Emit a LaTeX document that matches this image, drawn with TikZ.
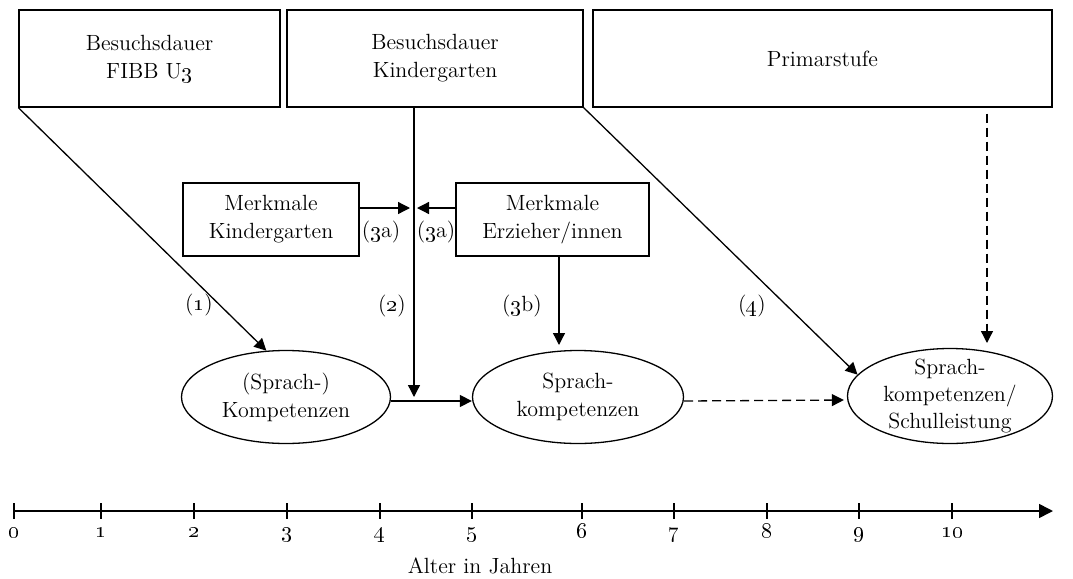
\documentclass[tikz,border=0pt]{standalone}
\usepackage{tikz}
\usetikzlibrary{arrows.meta, positioning, shapes.geometric, calc}
\newcommand{\osn}[1]{\oldstylenums{#1}}

\begin{document}
\begin{tikzpicture}[x=0.5pt, y=-0.5pt, font=\fontsize{11}{14}\selectfont,
  box/.style={draw, line width=0.65pt, align=center, minimum height=48.5pt, inner sep=0pt},
  subbox/.style={draw, line width=0.65pt, align=center, minimum height=36.5pt, inner sep=0pt},
  outcome/.style={draw, ellipse, line width=0.65pt, align=center, inner sep=0pt, minimum height=46.5pt},
  arr/.style={line width=0.65pt, -{Triangle[length=6pt, width=6pt]}},
  darr/.style={arr, dash pattern=on 4.5pt off 2.5pt}]

  % Define constants
  \def\axisy{511}
  \def\ticklen{8}

  % Fix the page size
  \useasboundingbox (0,0) rectangle (1073,579);

  % Top row: phases
  \node[box, minimum width=130.5pt] (fibb) at (149.5,58.5) {Besuchsdauer\\FIBB U\osn{3}};
  \node[box, minimum width=148pt] (kiga) at (435,58.5) {Besuchsdauer\\Kindergarten};
  \node[box, minimum width=229.5pt] (prim) at (822.5,58.5) {Primarstufe};

  % Moderators
  \node[subbox, minimum width=88pt] (mkiga) at (271,219.5) {Merkmale\\Kindergarten};
  \node[subbox, minimum width=96.5pt] (merz) at (552.5,219.5) {Merkmale\\Erzieher/innen};

  % Outcomes
  \node[outcome, minimum width=104.5pt] (sk1) at (286,397) {(Sprach-)\\Kompetenzen};
  \node[outcome, minimum width=105.5pt] (sk2) at (578,397) {Sprach-\\kompetenzen};
  \node[outcome, minimum width=102.5pt, minimum height=47.5pt, inner ysep=-2.5pt,
        font=\fontsize{11}{13.3}\selectfont] (sk3) at (950,396) {Sprach-\\kompetenzen/\\Schulleistung};

  % Key coordinates for the connectors
  \coordinate (join) at (414,397);    % tip of path (2)
  \coordinate (jmod) at (414,208);    % where (3a) meets (2)
  \coordinate (t3b) at (559,345);     % tip of path (3b)
  \coordinate (pend) at (987,343);    % tip of dashed path from Primarstufe

  % Path (1)
  \draw[arr] (fibb.south west) -- (sk1.113);
  \node (l1) at (199,305) {(\osn{1})};

  % Path (2)
  \draw[arr] (kiga.south -| join) -- (join);
  \draw[arr] ([yshift=-2pt]sk1.east) -- ([yshift=-2pt]sk2.west);
  \node (l2) at (392,306) {(\osn{2})};

  % Paths (3a) and (3b)
  \draw[arr, shorten >=2pt] (mkiga.east |- jmod) -- (jmod);
  \draw[arr, shorten >=1.5pt] (merz.west |- jmod) -- (jmod);
  \node (l3a) at (381,232) {(\osn{3}a)};
  \node (l3a') at (436,232) {(\osn{3}a)};
  \draw[arr] (merz.south -| t3b) -- (t3b);
  \node (l3b) at (522,306) {(\osn{3}b)};

  % Path (4)
  \draw[arr] (kiga.south east) -- (sk3.167);
  \node (l4) at (752,306) {(\osn{4})};

  % Dashed paths
  \draw[darr, shorten <=3pt] (prim.south -| pend) -- (pend);
  \draw[darr, shorten >=1.5pt] ([yshift=-2pt]sk2.east) -- ([yshift=-2pt]sk3.west);

  % Age axis
  \coordinate (a0) at (14,\axisy);
  \coordinate (aend) at (1053,\axisy);
  \draw[line width=0.8pt, -{Triangle[length=7pt, width=7pt]}] (a0) -- (aend);
  \foreach \x/\t in {14/0, 101/1, 194/2, 287/3, 380/4, 472/5, 582/6, 674/7, 767/8, 859/9, 952/10} {
    \draw[line width=0.8pt] (\x,\axisy-\ticklen) -- (\x,\axisy+\ticklen);
    \node[anchor=base] (tick\t) at (\x,537) {\osn{\t}};
  }
  \node (axislabel) at (480,566) {Alter in Jahren};

\end{tikzpicture}
\end{document}
